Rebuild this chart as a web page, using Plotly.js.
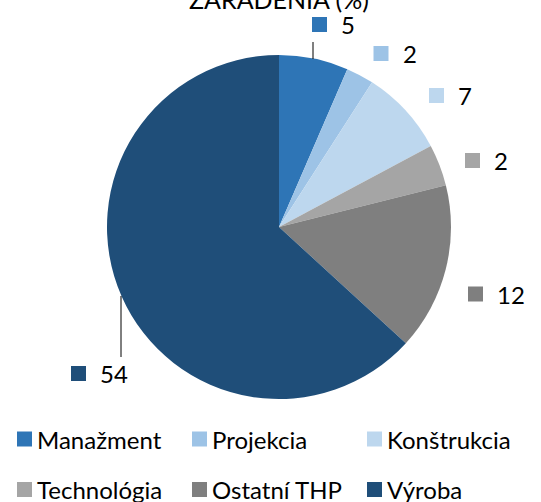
<!DOCTYPE html>
<html><head><meta charset="utf-8">
<script src="https://cdn.plot.ly/plotly-3.0.1.min.js"></script>
<style>html,body{margin:0;padding:0;background:#fff}#chart{width:541px;height:502px}</style>
</head><body><div id="chart"></div>
<script>
// ---- data ----
const categories = ['Manažment', 'Projekcia', 'Konštrukcia', 'Technológia', 'Ostatní THP', 'Výroba'];
const sliceShares = [6.5, 2.6, 8.1, 3.9, 15.7, 63.2];   // slice sizes
const dataLabels = ['5', '2', '7', '2', '12', '54'];    // numbers printed next to slices
const colors = ['#2e75b6', '#9dc3e6', '#bdd7ee', '#a5a5a5', '#7f7f7f', '#1f4e79'];
const titleText = 'ZARADENIA (%)';

// ---- layout helpers (pixel -> paper) ----
const W = 541, H = 502;
const px = x => x / W, py = y => 1 - y / H;
const labelPos = [[319.5, 24.5], [381, 53.5], [436.5, 95.5], [472.5, 160.5], [475.5, 294], [78.5, 373.5]];
const legendPos = [[24.5, 439], [199.5, 439], [374.5, 439], [24.5, 489.5], [199.5, 489.5], [374.5, 489.5]];
const leaders = [[313, 42, 313, 59], [121, 296, 121, 357]];
const SQ = 15;
const FONT = 'Lato, "Liberation Sans", sans-serif';
const FS = 24;

const shapes = [];
const annotations = [];
function keyBox(cx, cy, color) {
  shapes.push({type: 'rect', xref: 'paper', yref: 'paper',
    x0: px(cx - SQ / 2), x1: px(cx + SQ / 2), y0: py(cy + SQ / 2), y1: py(cy - SQ / 2),
    fillcolor: color, line: {width: 0}});
}
function label(x, cy, text) {
  annotations.push({xref: 'paper', yref: 'paper', x: px(x), y: py(cy), xanchor: 'left', yanchor: 'middle',
    text: text, showarrow: false, borderpad: 0, font: {family: FONT, size: FS, color: '#000'}});
}
categories.forEach((c, i) => {
  const [lx, ly] = labelPos[i];
  keyBox(lx, ly, colors[i]);
  label(lx + SQ / 2 + 13, ly, dataLabels[i]);
  const [gx, gy] = legendPos[i];
  keyBox(gx, gy, colors[i]);
  label(gx + SQ / 2 + 4, gy, c);
});
leaders.forEach(l => shapes.push({type: 'line', xref: 'paper', yref: 'paper',
  x0: px(l[0]), y0: py(l[1]), x1: px(l[2]), y1: py(l[3]), line: {color: '#000', width: 1}}));

const trace = {
  type: 'pie',
  labels: categories,
  values: sliceShares,
  marker: {colors: colors, line: {width: 0}},
  sort: false,
  direction: 'clockwise',
  rotation: 0,
  textinfo: 'none',
  hoverinfo: 'label+value',
  showlegend: false,
  domain: {x: [px(107), px(451)], y: [py(399), py(55)]}
};

const layout = {
  width: W, height: H,
  margin: {l: 0, r: 0, t: 0, b: 0},
  paper_bgcolor: '#fff',
  showlegend: false,
  title: {text: titleText, font: {family: FONT, size: 25, color: '#000'},
    x: px(279), xref: 'paper', xanchor: 'center', y: 1, yref: 'container', yanchor: 'middle'},
  shapes: shapes,
  annotations: annotations
};
Plotly.newPlot('chart', [trace], layout, {displayModeBar: false, staticPlot: true});
</script></body></html>
